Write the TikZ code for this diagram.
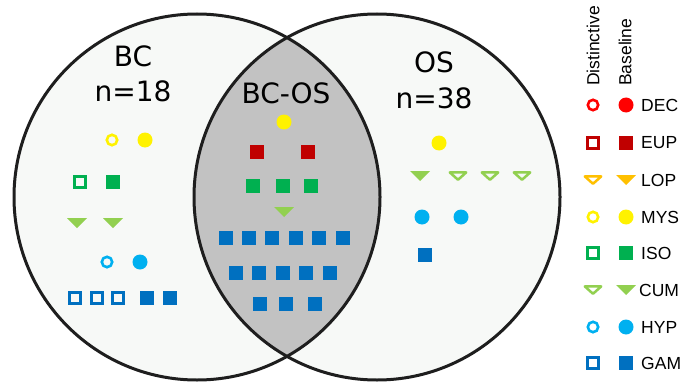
\documentclass[tikz,border=0pt]{standalone}
\usepackage{fontspec}
\setmainfont{DejaVu Sans}
\newfontfamily\legfont{Liberation Sans}
\definecolor{bgfill}{RGB}{247,249,247}
\definecolor{lensfill}{RGB}{194,194,194}
\definecolor{outl}{RGB}{30,30,30}
\definecolor{dec}{RGB}{255,0,0}
\definecolor{eup}{RGB}{192,0,0}
\definecolor{lop}{RGB}{255,192,0}
\definecolor{mys}{RGB}{255,242,0}
\definecolor{iso}{RGB}{0,176,80}
\definecolor{cum}{RGB}{146,208,80}
\definecolor{hyp}{RGB}{0,176,240}
\definecolor{gam}{RGB}{0,112,192}
\begin{document}
\begin{tikzpicture}[x=1pt,y=-1pt,
  fcirc/.style={circle, fill=#1, draw=none, minimum size=15pt, inner sep=0pt},
  ocirc/.style={circle, draw=#1, line width=2.6pt, fill=bgfill, minimum size=10.4pt, inner sep=0pt},
  fsq/.style={rectangle, fill=#1, draw=none, minimum size=14.5pt, inner sep=0pt},
  osq/.style={rectangle, draw=#1, line width=2.6pt, fill=bgfill, minimum size=10.6pt, inner sep=0pt},
  legbox/.style={font=\legfont\fontsize{17.5}{20}\selectfont, inner sep=0pt},
  venntxt/.style={font=\fontsize{28}{32}\selectfont, inner sep=0pt, anchor=base},
  ftri/.pic={\fill[pic actions] (-10,-5) -- (10,-5) -- (0,5) -- cycle;},
  otri/.pic={\filldraw[pic actions, line width=2.5pt, line join=round] (-8.2,-3.6) -- (8.2,-3.6) -- (0,3.8) -- cycle;}
]
\useasboundingbox (0,0) rectangle (684,385);
% circles
\fill[bgfill] (197,197) circle[radius=183pt];
\fill[bgfill] (377,197) circle[radius=183pt];
\begin{scope}
  \clip (197,197) circle[radius=183pt];
  \fill[lensfill] (377,197) circle[radius=183pt];
\end{scope}
\draw[outl, line width=3pt] (197,197) circle[radius=183pt];
\draw[outl, line width=3pt] (377,197) circle[radius=183pt];
% titles
\node[venntxt] (bct) at (133,67) {BC};
\node[venntxt] (bcn) at (133,102) {n=18};
\node[venntxt] (bcos) at (286,103) {BC-OS};
\node[venntxt] (ost) at (434,73) {OS};
\node[venntxt] (osn) at (434,108) {n=38};
% left circle markers
\node[ocirc=mys] (l1) at (112,140) {};
\node[fcirc=mys] (l2) at (145,140) {};
\node[osq=iso] (l3) at (80,182) {};
\node[fsq=iso] (l4) at (113,182) {};
\pic[fill=cum] (l5) at (77,223) {ftri};
\pic[fill=cum] (l6) at (113,223) {ftri};
\node[ocirc=hyp] (l7) at (107,262) {};
\node[fcirc=hyp] (l8) at (140,262) {};
\node[osq=gam] (l9) at (75,298) {};
\node[osq=gam] (l10) at (97,298) {};
\node[osq=gam] (l11) at (118,298) {};
\node[fsq=gam] (l12) at (147,298) {};
\node[fsq=gam] (l13) at (170,298) {};
% lens markers
\node[fcirc=mys] (m1) at (284,122) {};
\node[fsq=eup] (m2) at (257,152) {};
\node[fsq=eup] (m3) at (308,152) {};
\node[fsq=iso] (m4) at (253,186) {};
\node[fsq=iso] (m5) at (283,186) {};
\node[fsq=iso] (m6) at (311,186) {};
\pic[fill=cum] (m7) at (284,212) {ftri};
\foreach \x [count=\i] in {226,249,272,296,319,343}
  \node[fsq=gam] (ga\i) at (\x,238) {};
\foreach \x [count=\i] in {236,259,283,306,330}
  \node[fsq=gam] (gb\i) at (\x,273) {};
\foreach \x [count=\i] in {260,286,315}
  \node[fsq=gam] (gc\i) at (\x,304) {};
% right circle markers
\node[fcirc=mys] (r1) at (439,143) {};
\pic[fill=cum] (r2) at (420,176) {ftri};
\pic[draw=cum, fill=bgfill] (r3) at (458,176) {otri};
\pic[draw=cum, fill=bgfill] (r4) at (490,176) {otri};
\pic[draw=cum, fill=bgfill] (r5) at (522,176) {otri};
\node[fcirc=hyp] (r6) at (422,217) {};
\node[fcirc=hyp] (r7) at (461,217) {};
\node[fsq=gam] (r8) at (425,255) {};
% legend headers
\node[legbox, rotate=90, anchor=west] (hd) at (593,86) {Distinctive};
\node[legbox, rotate=90, anchor=west] (hb) at (625,86) {Baseline};
% legend rows
\node[ocirc=dec, fill=white] (k1o) at (593,105) {};
\node[fcirc=dec] (k1f) at (626,105) {};
\node[legbox, anchor=west] (k1t) at (641,105) {DEC};
\node[osq=eup, fill=white] (k2o) at (593,143) {};
\node[fsq=eup] (k2f) at (626,143) {};
\node[legbox, anchor=west] (k2t) at (641,143) {EUP};
\pic[draw=lop, fill=white] (k3o) at (593,180) {otri};
\pic[fill=lop] (k3f) at (626,180) {ftri};
\node[legbox, anchor=west] (k3t) at (641,180) {LOP};
\node[ocirc=mys, fill=white] (k4o) at (593,217) {};
\node[fcirc=mys] (k4f) at (626,217) {};
\node[legbox, anchor=west] (k4t) at (641,217) {MYS};
\node[osq=iso, fill=white] (k5o) at (593,253) {};
\node[fsq=iso] (k5f) at (626,253) {};
\node[legbox, anchor=west] (k5t) at (641,253) {ISO};
\pic[draw=cum, fill=white] (k6o) at (593,290) {otri};
\pic[fill=cum] (k6f) at (626,290) {ftri};
\node[legbox, anchor=west] (k6t) at (639,290) {CUM};
\node[ocirc=hyp, fill=white] (k7o) at (593,327) {};
\node[fcirc=hyp] (k7f) at (626,327) {};
\node[legbox, anchor=west] (k7t) at (641,327) {HYP};
\node[osq=gam, fill=white] (k8o) at (593,363) {};
\node[fsq=gam] (k8f) at (626,363) {};
\node[legbox, anchor=west] (k8t) at (641,363) {GAM};
\end{tikzpicture}
\end{document}
